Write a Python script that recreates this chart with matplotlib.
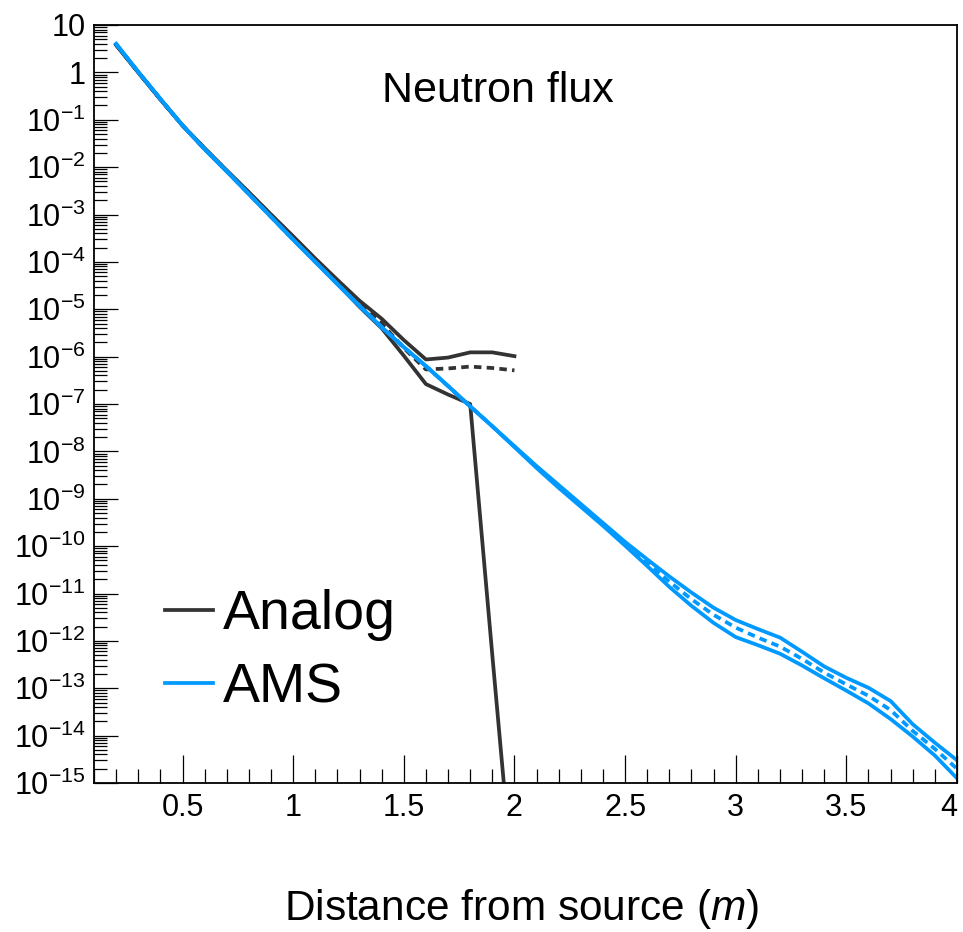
import numpy as np
import matplotlib
matplotlib.use("Agg")
from matplotlib import pyplot as plt
from matplotlib.ticker import FixedLocator, LogLocator, MultipleLocator, NullFormatter

plt.rcParams['font.family'] = ['Liberation Sans', 'DejaVu Sans']
plt.rcParams['mathtext.fontset'] = 'custom'
plt.rcParams['mathtext.rm'] = 'Liberation Sans'
plt.rcParams['mathtext.it'] = 'Liberation Sans:italic'
plt.rcParams['mathtext.bf'] = 'Liberation Sans:bold'

# distance (m) and log10(flux)
analog_x = [0.2, 0.3, 0.4, 0.5, 0.6, 0.7, 0.8, 0.9, 1.0, 1.1,
            1.2, 1.3, 1.4, 1.5, 1.6, 1.7, 1.8, 1.9, 2.0]
analog_hi = [0.58, 0.00, -0.57, -1.12, -1.60, -2.07, -2.53, -3.00, -3.46, -3.93,
             -4.38, -4.82, -5.20, -5.65, -6.06, -6.02, -5.91, -5.91, -5.99]
analog_mid = [0.58, 0.00, -0.57, -1.12, -1.61, -2.08, -2.54, -3.01, -3.48, -3.95,
              -4.42, -4.88, -5.30, -5.82, -6.27, -6.25, -6.21, -6.24, -6.29]
analog_lo = [0.58, 0.00, -0.57, -1.12, -1.62, -2.09, -2.55, -3.02, -3.50, -3.97,
             -4.46, -4.95, -5.40, -5.98, -6.58, -6.80, -7.00, -12.3, -17.5]

ams_x = [0.2, 0.3, 0.4, 0.5, 0.6, 0.7, 0.8, 0.9, 1.0, 1.1,
         1.2, 1.3, 1.4, 1.5, 1.6, 1.7, 1.8, 1.9, 2.0, 2.1,
         2.2, 2.3, 2.4, 2.5, 2.6, 2.7, 2.8, 2.9, 3.0, 3.1,
         3.2, 3.3, 3.4, 3.5, 3.6, 3.7, 3.8, 3.9, 4.0]
ams_hi = [0.60, 0.01, -0.56, -1.12, -1.62, -2.09, -2.57, -3.05, -3.53, -4.00,
          -4.47, -4.93, -5.38, -5.80, -6.20, -6.62, -7.05, -7.47, -7.89, -8.31,
          -8.71, -9.11, -9.51, -9.91, -10.28, -10.64, -10.98, -11.30, -11.56, -11.75,
          -11.93, -12.23, -12.54, -12.78, -12.99, -13.27, -13.76, -14.15, -14.52]
ams_mid = [0.60, 0.01, -0.56, -1.12, -1.62, -2.09, -2.57, -3.05, -3.53, -4.00,
           -4.47, -4.93, -5.38, -5.80, -6.20, -6.62, -7.05, -7.47, -7.90, -8.33,
           -8.74, -9.14, -9.54, -9.95, -10.35, -10.75, -11.12, -11.45, -11.72, -11.93,
           -12.12, -12.38, -12.67, -12.92, -13.16, -13.46, -13.90, -14.28, -14.70]
ams_lo = [0.60, 0.01, -0.56, -1.12, -1.62, -2.09, -2.57, -3.05, -3.53, -4.00,
          -4.47, -4.93, -5.38, -5.80, -6.20, -6.62, -7.05, -7.47, -7.91, -8.35,
          -8.77, -9.17, -9.57, -9.99, -10.42, -10.86, -11.26, -11.62, -11.92, -12.09,
          -12.27, -12.52, -12.79, -13.05, -13.32, -13.65, -14.02, -14.42, -14.90]

x_ticks = [0.5, 1.0, 1.5, 2.0, 2.5, 3.0, 3.5, 4.0]
x_ticklabels = ['0.5', '1', '1.5', '2', '2.5', '3', '3.5', '4']
y_exponents = list(range(-15, 2))
y_ticklabels = ['$10^{-%d}$' % -e if e < 0 else ('1' if e == 0 else '10') for e in y_exponents]

GREY = '#333333'
BLUE = '#0099ff'
LW = 2.7
DASH = (0, (2, 1.4))

fig = plt.figure(figsize=(9.63, 9.32), dpi=100)
ax = fig.add_axes([94 / 963, 1 - 783 / 932, 863 / 963, 758 / 932])

ax.plot(analog_x, 10 ** np.array(analog_hi), color=GREY, lw=LW, label='Analog')
ax.plot(analog_x, 10 ** np.array(analog_mid), color=GREY, lw=LW, ls=DASH)
ax.plot(analog_x, 10 ** np.array(analog_lo), color=GREY, lw=LW)

ax.plot(ams_x, 10 ** np.array(ams_hi), color=BLUE, lw=LW, label='AMS')
ax.plot(ams_x, 10 ** np.array(ams_mid), color=BLUE, lw=LW, ls=DASH)
ax.plot(ams_x, 10 ** np.array(ams_lo), color=BLUE, lw=LW)

ax.set_yscale('log')
ax.set_xlim(0.1, 4.0)
ax.set_ylim(1e-15, 10)

ax.xaxis.set_minor_locator(MultipleLocator(0.1))
ax.set_xticks(x_ticks)
ax.set_xticklabels(x_ticklabels)
ax.get_xticklabels()[-1].set_ha('right')

ax.yaxis.set_major_locator(FixedLocator([10.0 ** e for e in y_exponents]))
ax.yaxis.set_minor_locator(LogLocator(base=10, subs=np.arange(2, 10), numticks=100))
ax.yaxis.set_minor_formatter(NullFormatter())
ax.set_yticklabels(y_ticklabels)

ax.tick_params(axis='both', which='both', direction='in', top=False, right=False,
               width=0.9, color='black', labelsize=22)
ax.tick_params(axis='x', which='major', length=20, pad=7)
ax.tick_params(axis='x', which='minor', length=10)
ax.tick_params(axis='y', which='major', length=17, pad=6)
ax.tick_params(axis='y', which='minor', length=9)
for s in ax.spines.values():
    s.set_linewidth(1.3)

fig.text(0.517, 1 - 102 / 932, 'Neutron flux', ha='center', va='baseline', fontsize=31)
fig.text(0.542, 1 - 920 / 932, 'Distance from source ($m$)', ha='center', va='baseline', fontsize=30.5)

ax.legend(loc='center left', bbox_to_anchor=(0.0823, 0.1734), frameon=False, fontsize=40,
          handlelength=0.87, handletextpad=0.18, labelspacing=0.38, borderpad=0, borderaxespad=0)

fig.savefig('out.png', dpi=100)
